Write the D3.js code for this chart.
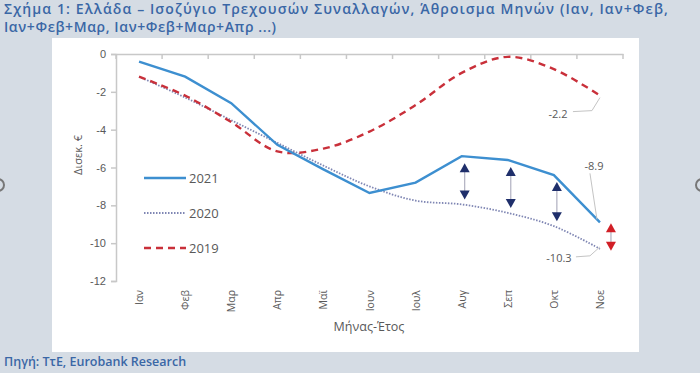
<!DOCTYPE html>
<html><head><meta charset="utf-8">
<script src="https://cdn.jsdelivr.net/npm/d3@7"></script>
<style>body{margin:0;background:#d5dce4;}svg{display:block;font-family:"Open Sans",Lato,sans-serif;}</style>
</head><body><svg id="c" width="700" height="373"></svg>
<script>
const months = ["Ιαν","Φεβ","Μαρ","Απρ","Μαϊ","Ιουν","Ιουλ","Αυγ","Σεπ","Οκτ","Νοε"];
const v2021 = [-0.4,-1.2,-2.6,-4.8,-6.1,-7.35,-6.8,-5.4,-5.6,-6.4,-8.9];
const v2020 = [-1.2,-2.3,-3.5,-4.7,-5.9,-7.0,-7.75,-7.95,-8.4,-9.1,-10.3];
const v2019 = [-1.2,-2.2,-3.6,-5.15,-5.0,-4.1,-2.7,-1.0,-0.15,-0.8,-2.2];
const yTicks = [0,-2,-4,-6,-8,-10,-12];
const arrowMonths = ["Αυγ","Σεπ","Οκτ"];

const svg = d3.select("#c");
const W = 700, H = 373;
svg.append("rect").attr("width",W).attr("height",H).attr("fill","#d5dce4");
// side handles
svg.append("circle").attr("cx",-2).attr("cy",185).attr("r",6).attr("fill","none").attr("stroke","#777").attr("stroke-width",2);
svg.append("circle").attr("cx",702).attr("cy",185).attr("r",6).attr("fill","none").attr("stroke","#777").attr("stroke-width",2);

const tc = "#3a67a6";
svg.append("text").attr("x",4).attr("y",14).attr("fill",tc).attr("font-size",14).attr("font-weight",600)
  .attr("letter-spacing",1.1)
  .text("Σχήμα 1: Ελλάδα – Ισοζύγιο Τρεχουσών Συναλλαγών, Άθροισμα Μηνών (Ιαν, Ιαν+Φεβ,");
svg.append("text").attr("x",4).attr("y",32).attr("fill",tc).attr("font-size",14).attr("font-weight",600)
  .attr("letter-spacing",0.6)
  .text("Ιαν+Φεβ+Μαρ, Ιαν+Φεβ+Μαρ+Απρ ...)");
svg.append("text").attr("x",4).attr("y",366).attr("fill",tc).attr("font-size",12.5).attr("font-weight",600)
  .text("Πηγή: ΤτΕ, Eurobank Research");

svg.append("rect").attr("x",52).attr("y",38).attr("width",587).attr("height",314).attr("fill","#fff");

const x = d3.scaleBand().domain(months).range([116,623]);
const y = d3.scaleLinear().domain([-12,0]).range([281,54]);
const cx = m => x(m) + x.bandwidth()/2;
const grey = "#c8c8c8", txt = "#595959";

// y axis
const ya = svg.append("g").attr("transform","translate(116,0)")
  .call(d3.axisLeft(y).tickValues(yTicks).tickSize(5).tickFormat(d3.format("d")));
ya.select(".domain").attr("stroke",grey).attr("stroke-width",1.5);
ya.selectAll(".tick line").attr("stroke",grey).attr("stroke-width",1.5);
ya.selectAll(".tick text").attr("fill",txt).attr("font-size",11).attr("x",-10)
  .text(d => d===0 ? "0" : "-" + Math.abs(d));

// x axis at zero line
const xa = svg.append("g").attr("transform",`translate(0,${y(0)})`)
  .call(d3.axisBottom(x).tickSize(0).tickFormat(""));
xa.select(".domain").attr("stroke",grey).attr("stroke-width",1.5);
const bounds = d3.range(months.length+1).map(i => 116 + i*x.bandwidth());
svg.append("g").selectAll("line").data(bounds).join("line")
  .attr("x1",d=>d).attr("x2",d=>d).attr("y1",y(0)).attr("y2",y(0)+5).attr("stroke",grey).attr("stroke-width",1.5);

// x labels at bottom, rotated
svg.append("g").selectAll("text").data(months).join("text")
  .attr("transform",d=>`translate(${cx(d)+4},${290}) rotate(-90)`)
  .attr("text-anchor","end").attr("fill",txt).attr("font-size",10.5).text(d=>d);

svg.append("text").attr("x",369).attr("y",331).attr("text-anchor","middle").attr("fill",txt).attr("font-size",12.5).text("Μήνας-Έτος");
svg.append("text").attr("transform","translate(82,155) rotate(-90)").attr("text-anchor","middle").attr("fill",txt).attr("font-size",11).text("Δισεκ. €");

// lines
const lineL = d3.line().x((d,i)=>cx(months[i])).y(d=>y(d));
const lineS = d3.line().x((d,i)=>cx(months[i])).y(d=>y(d)).curve(d3.curveCatmullRom.alpha(0.5));
svg.append("path").attr("d",lineS(v2020)).attr("fill","none").attr("stroke","#7f86b3").attr("stroke-width",1.8).attr("stroke-dasharray","1.5,1.5");
svg.append("path").attr("d",lineS(v2019)).attr("fill","none").attr("stroke","#c9303a").attr("stroke-width",2.4).attr("stroke-dasharray","7,5");
svg.append("path").attr("d",lineL(v2021)).attr("fill","none").attr("stroke","#3d8fd0").attr("stroke-width",2.4);

// arrows
function dblArrow(xp, y1, y2, col){
  const g = svg.append("g");
  g.append("line").attr("x1",xp).attr("x2",xp).attr("y1",y1+6).attr("y2",y2-6).attr("stroke","#b0b0c0").attr("stroke-width",1.2);
  g.append("path").attr("d",`M${xp},${y1} L${xp-5},${y1+9} L${xp+5},${y1+9} Z`).attr("fill",col);
  g.append("path").attr("d",`M${xp},${y2} L${xp-5},${y2-9} L${xp+5},${y2-9} Z`).attr("fill",col);
}
arrowMonths.forEach(m => {
  const i = months.indexOf(m);
  dblArrow(cx(m)+3, y(v2021[i])+7, y(v2020[i])-5, "#1f2f6b");
});
{
  const i = months.length-1;
  dblArrow(cx(months[i])+11, y(v2021[i])+1, y(v2020[i])+2, "#d11f26");
}

// data labels
const last = months[months.length-1];
svg.append("path").attr("d",`M${cx(last)},${y(v2019[10])+2} L${cx(last)-8},${y(v2019[10])+15} L${cx(last)-27},${y(v2019[10])+16}`).attr("fill","none").attr("stroke","#c4c4c4");
svg.append("text").attr("x",cx(last)-42).attr("y",y(v2019[10])+22).attr("text-anchor","middle").attr("fill",txt).attr("font-size",11).text(d3.format(".1f")(v2019[10]).replace("−","-"));
svg.append("path").attr("d",`M${cx(last)-3},${y(v2021[10])-3} L${cx(last)-10},${y(v2021[10])-49}`).attr("fill","none").attr("stroke","#c4c4c4");
svg.append("text").attr("x",cx(last)-6).attr("y",y(v2021[10])-52).attr("text-anchor","middle").attr("fill",txt).attr("font-size",11).text(d3.format(".1f")(v2021[10]).replace("−","-"));
svg.append("path").attr("d",`M${cx(last)},${y(v2020[10])-2} L${cx(last)-10},${y(v2020[10])+7} L${cx(last)-24},${y(v2020[10])+8}`).attr("fill","none").attr("stroke","#c4c4c4");
svg.append("text").attr("x",cx(last)-41).attr("y",y(v2020[10])+13).attr("text-anchor","middle").attr("fill",txt).attr("font-size",11).text(d3.format(".1f")(v2020[10]).replace("−","-"));

// legend
const leg = [["2021","#3d8fd0",2.4,null],["2020","#7f86b3",1.8,"1.5,1.5"],["2019","#c9303a",2.4,"7,5"]];
leg.forEach((d,i)=>{
  const ly = 178 + i*35;
  svg.append("line").attr("x1",144).attr("x2",186).attr("y1",ly).attr("y2",ly).attr("stroke",d[1]).attr("stroke-width",d[2]).attr("stroke-dasharray",d[3]);
  svg.append("text").attr("x",189).attr("y",ly+5).attr("fill",txt).attr("font-size",13).text(d[0]);
});
</script></body></html>
